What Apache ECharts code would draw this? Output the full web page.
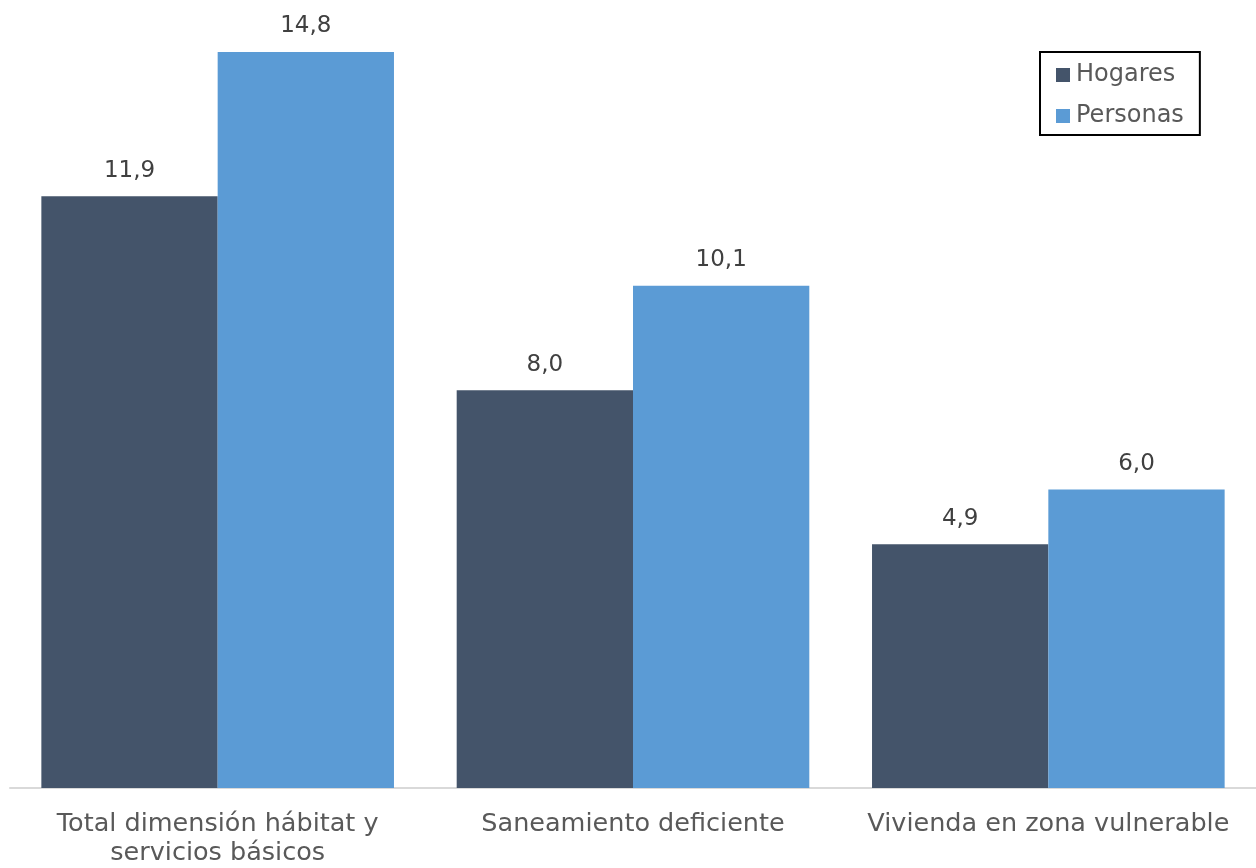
<!DOCTYPE html>
<html>
<head>
<meta charset="utf-8">
<script src="https://cdn.jsdelivr.net/npm/echarts@6/dist/echarts.min.js"></script>
<style>
  html, body { margin: 0; padding: 0; background: #fff; }
  #chart { width: 1256px; height: 868px; }
</style>
</head>
<body>
<div id="chart"></div>
<script>
// Dimensión hábitat y servicios básicos: porcentaje de hogares y personas
const categories = [
  'Total dimensión hábitat y\nservicios básicos',
  'Saneamiento deficiente',
  'Vivienda en zona vulnerable'
];
const hogares = [11.9, 8.0, 4.9];
const personas = [14.8, 10.1, 6.0];

const FONT = '"DejaVu Sans", "Open Sans", sans-serif';

const fmt = p => p.value.toFixed(1).replace('.', ',');

const chart = echarts.init(document.getElementById('chart'), null, { renderer: 'canvas' });
chart.setOption({
  animation: false,
  backgroundColor: '#ffffff',
  textStyle: { fontFamily: FONT },
  grid: { left: 10, right: -1, top: 52, bottom: 80, containLabel: false },
  legend: {
    orient: 'vertical',
    left: 1040,
    top: 52,
    icon: 'rect',
    itemWidth: 14,
    itemHeight: 14,
    itemGap: 17,
    padding: [11, 16, 7, 16],
    borderColor: '#000000',
    borderWidth: 2,
    textStyle: { color: '#595959', fontSize: 24, fontFamily: FONT, padding: [0, 0, 0, 1] },
    data: ['Hogares', 'Personas']
  },
  xAxis: {
    type: 'category',
    data: categories,
    axisLine: { lineStyle: { color: '#d9d9d9', width: 2 } },
    axisTick: { show: false },
    axisLabel: {
      color: '#595959',
      fontSize: 25.5,
      fontFamily: FONT,
      lineHeight: 29,
      margin: 22,
      interval: 0
    }
  },
  yAxis: {
    type: 'value',
    min: 0,
    max: 14.8,
    show: false,
    splitLine: { show: false }
  },
  series: [
    {
      name: 'Hogares',
      type: 'bar',
      data: hogares,
      barGap: '0%',
      barCategoryGap: '15.1%',
      itemStyle: { color: '#44546a' },
      label: {
        show: true, position: 'top', distance: 14,
        color: '#404040', fontSize: 23, fontFamily: FONT, formatter: fmt
      }
    },
    {
      name: 'Personas',
      type: 'bar',
      data: personas,
      barGap: '0%',
      barCategoryGap: '15.1%',
      itemStyle: { color: '#5b9bd5' },
      label: {
        show: true, position: 'top', distance: 14,
        color: '#404040', fontSize: 23, fontFamily: FONT, formatter: fmt
      }
    }
  ]
});
</script>
</body>
</html>
